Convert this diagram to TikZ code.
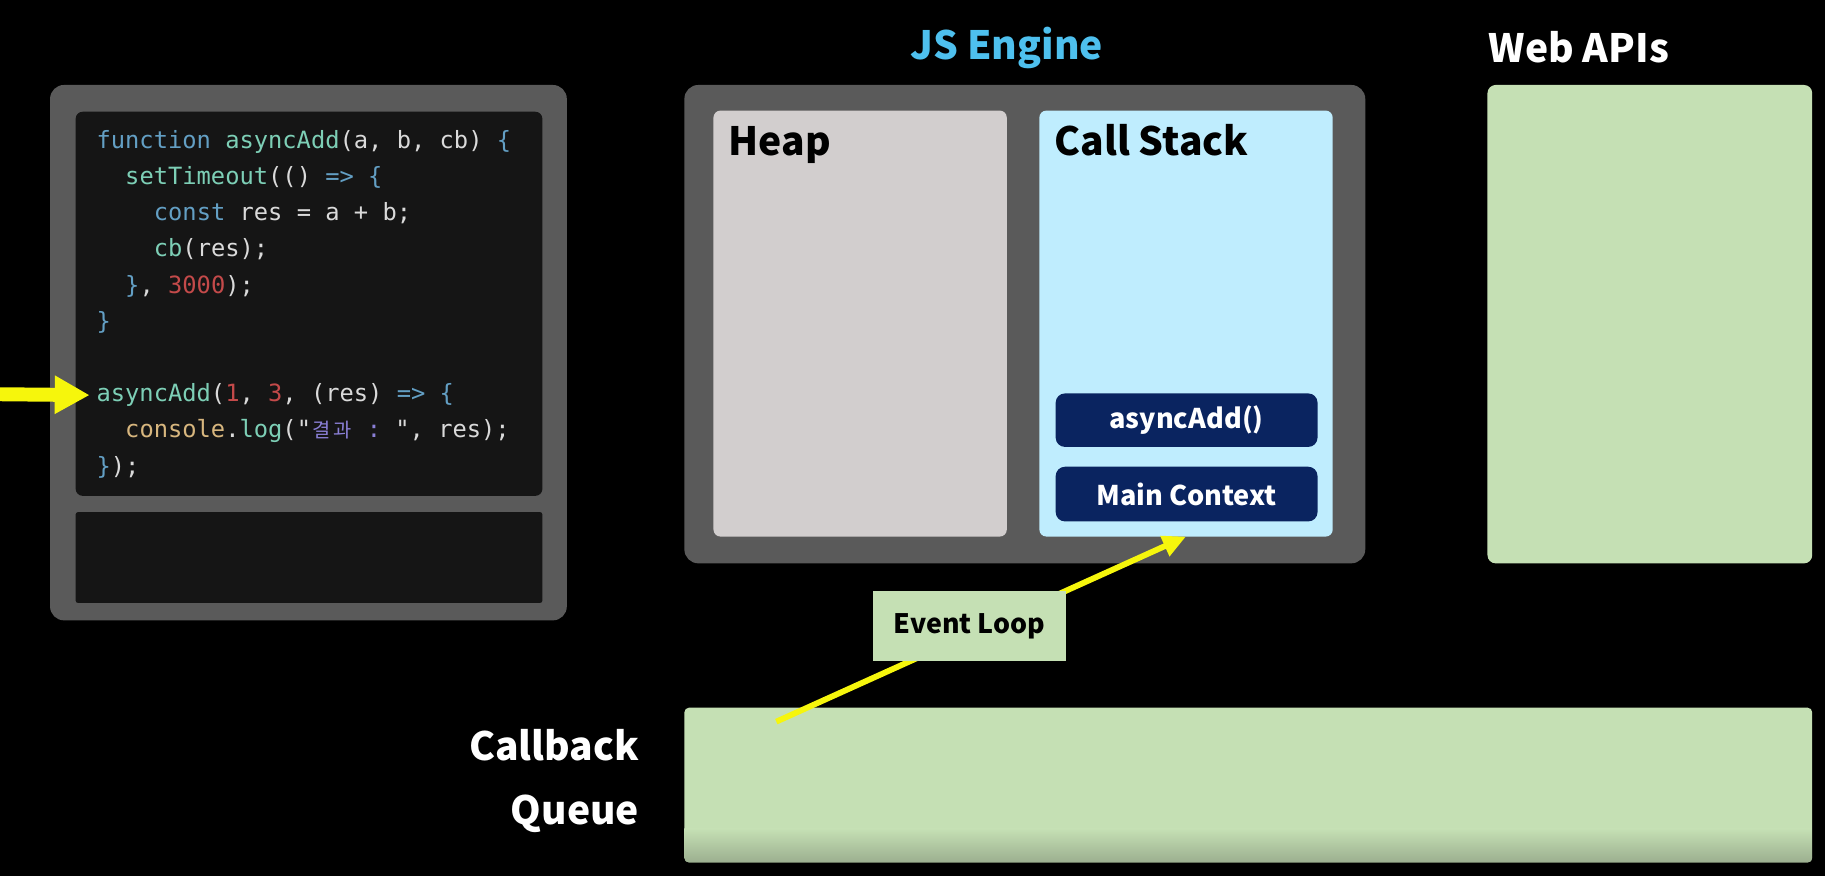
\documentclass[tikz,border=0pt]{standalone}
\usepackage{fontspec}
\setmonofont{DejaVu Sans Mono}
\newfontfamily\kr{Noto Sans CJK KR}
\usetikzlibrary{arrows.meta}
\definecolor{panelgray}{HTML}{5A5A5A}
\definecolor{codebg}{HTML}{151515}
\definecolor{heapc}{HTML}{D2CECE}
\definecolor{stackc}{HTML}{BFEDFE}
\definecolor{navy}{HTML}{0A2460}
\definecolor{greenc}{HTML}{C5E0B4}
\definecolor{greendark}{HTML}{9AAD8E}
\definecolor{jsblue}{HTML}{4EC0EE}
\definecolor{yel}{HTML}{F6F60C}
\definecolor{ckw}{HTML}{639FC4}
\definecolor{cfn}{HTML}{7DCFB6}
\definecolor{cpl}{HTML}{DADADA}
\definecolor{cnum}{HTML}{C44A4A}
\definecolor{ccon}{HTML}{D7B67E}
\definecolor{cstr}{HTML}{8A7FD6}
\newcommand\codk[1]{\textcolor{ckw}{#1}}
\newcommand\codf[1]{\textcolor{cfn}{#1}}
\newcommand\codp[1]{\textcolor{cpl}{#1}}
\newcommand\codn[1]{\textcolor{cnum}{#1}}
\newcommand\codc[1]{\textcolor{ccon}{#1}}
\newcommand\cods[1]{\textcolor{cstr}{#1}}
\newcommand\korch[1]{\makebox[17.8pt][c]{\kr\fontsize{17}{17}\selectfont #1}}
\begin{document}
\begin{tikzpicture}[x=1pt,y=-1pt,
  every node/.style={inner sep=0pt, outer sep=0pt},
  area/.style={rectangle, anchor=north west},
  panel/.style={area, fill=panelgray, rounded corners=12pt},
  darkbox/.style={area, fill=codebg},
  greenbox/.style={area, fill=greenc},
  frame/.style={rectangle, fill=navy, rounded corners=8pt, minimum width=225pt,
     text=white, font=\kr\bfseries\fontsize{23.3}{23.3}\selectfont},
  title/.style={font=\kr\bfseries\fontsize{33.5}{33.5}\selectfont},
  code/.style={anchor=base west, font=\ttfamily\fontsize{20.4}{20.4}\selectfont, text=cpl},
  yline/.style={draw=yel, line width=5pt, -{Triangle[length=20pt,width=18pt]}},
  ythick/.style={draw=yel, line width=12pt, -{Triangle[length=30pt,width=31pt]}}
]
\useasboundingbox (0,0) rectangle (1568,753);
\fill[black] (0,0) rectangle (1568,753);

% ---- code editor ----
\node[panel, minimum width=444pt, minimum height=460pt] (codepanel) at (43,73) {};
\node[darkbox, rounded corners=6pt, minimum width=401pt, minimum height=330pt] (codebox) at (65,96) {};
\node[darkbox, rounded corners=2pt, minimum width=401pt, minimum height=78pt] (console) at (65,440) {};

\node[code] (l1) at (83,127.4) {\codk{function} \codf{asyncAdd}\codp{(a, b, cb)} \codk{\{}};
\node[code] (l2) at (107.6,158.5) {\codf{setTimeout}\codp{(()} \codk{=> \{}};
\node[code] (l3) at (132.2,189.6) {\codk{const} \codp{res = a + b;}};
\node[code] (l4) at (132.2,220.7) {\codf{cb}\codp{(res);}};
\node[code] (l5) at (107.6,251.8) {\codk{\}}\codp{, }\codn{3000}\codp{);}};
\node[code] (l6) at (83,282.9) {\codk{\}}};
\node[code] (l8) at (83,345.1) {\codf{asyncAdd}\codp{(}\codn{1}\codp{, }\codn{3}\codp{, (res)} \codk{=> \{}};
\node[code] (l9) at (107.6,376.2) {\codc{console}\codp{.}\codf{log}\codp{("}\cods{\korch{결}\korch{과} : }\codp{", res);}};
\node[code] (l10) at (83,407.3) {\codk{\}}\codp{);}};

\coordinate (arrstart) at (-2,338.7);
\draw[ythick] (arrstart) -- ([xshift=-6pt]l8.west);

% ---- JS engine ----
\node[title, text=jsblue, anchor=base] (jstitle) at (865,51) {JS Engine};
\node[panel, minimum width=585pt, minimum height=411pt] (engine) at (588,73) {};
\node[area, fill=heapc, rounded corners=6pt, minimum width=252pt, minimum height=366pt] (heap) at (613,95) {};
\node[area, fill=stackc, rounded corners=6pt, minimum width=252pt, minimum height=366pt] (callstack) at (893,95) {};
\node[title, anchor=base west] (heaplbl) at (626,134) {Heap};
\node[title, anchor=base west] (stacklbl) at (906,134) {Call Stack};
\node[frame, minimum height=46pt] (asyncframe) at (1019.5,361) {asyncAdd()};
\node[frame, minimum height=47pt] (mainframe) at (1019.5,424.5) {Main Context};

% ---- Web APIs ----
\node[title, text=white, anchor=base west] (webtitle) at (1279,53.6) {Web APIs};
\node[greenbox, rounded corners=7pt, minimum width=279pt, minimum height=411pt] (webapis) at (1278,73) {};

% ---- Callback queue ----
\node[greenbox, rounded corners=4pt, minimum width=969pt, minimum height=133pt] (queue) at (588,608) {};
\begin{scope}
  \clip[rounded corners=4pt] (588,608) rectangle (1557,741);
  \shade[top color=greenc, bottom color=greendark] (588,712) rectangle (1557,742);
\end{scope}
\node[title, text=white, anchor=base east] (cbq1) at (549,653) {Callback};
\node[title, text=white, anchor=base east] (cbq2) at (549,708) {Queue};

% ---- Event loop ----
\coordinate (qstart) at (667,620);
\draw[yline] (qstart) -- (callstack.south);
\node[greenbox, minimum width=166pt, minimum height=60pt] (eventloop) at (750,508) {};
\node[font=\kr\bfseries\fontsize{23}{23}\selectfont] (evlbl) at (eventloop.center) {Event Loop};
\end{tikzpicture}
\end{document}
